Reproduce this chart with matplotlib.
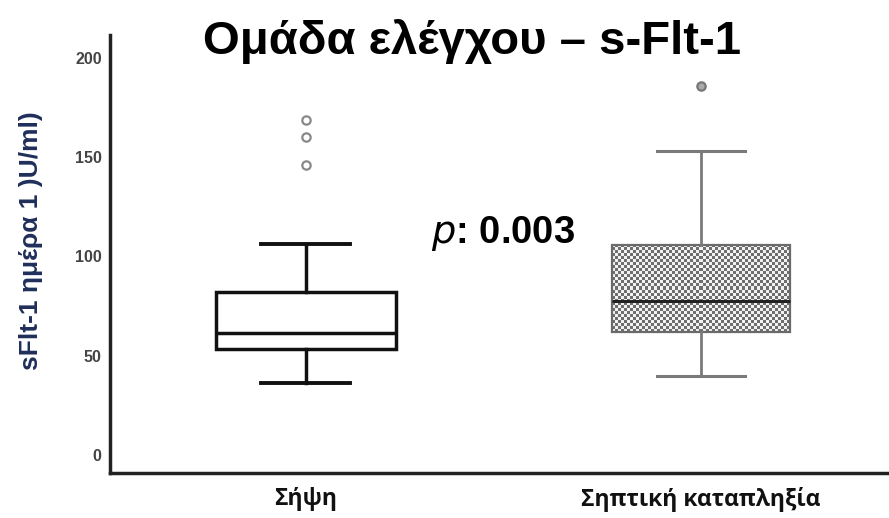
import matplotlib
matplotlib.use("Agg")
import matplotlib.pyplot as plt
import numpy as np

categories = ["Σήψη", "Σηπτική καταπληξία"]
whislo = [36, 40]
q1 = [53.5, 62]
med = [61.5, 77.5]
q3 = [82, 106]
whishi = [106.5, 153]
fliers = [[146, 160, 169], [186]]
yticks = [0, 50, 100, 150, 200]
title = "Ομάδα ελέγχου – s-Flt-1"
ylabel = "sFlt-1 ημέρα 1 )U/ml)"
ptext = "0.003"

fig = plt.figure(figsize=(8.89, 5.18), dpi=100)
ax = fig.add_axes([0.1237, 0.0869, 0.8763, 0.8455])
ax.set_xlim(0.504, 2.476)
ax.set_ylim(-9.1, 211.6)

stats = []
for i, c in enumerate(categories):
    stats.append(dict(label=c, whislo=whislo[i], q1=q1[i], med=med[i], q3=q3[i],
                      whishi=whishi[i], fliers=fliers[i]))

b1 = ax.bxp([stats[0]], positions=[1], widths=0.456, patch_artist=True,
            boxprops=dict(facecolor="white", edgecolor="#111111", linewidth=2.5),
            medianprops=dict(color="#111111", linewidth=2.5),
            whiskerprops=dict(color="#111111", linewidth=2.5),
            capprops=dict(color="#111111", linewidth=2.8),
            capwidths=0.225,
            flierprops=dict(marker="o", markersize=6, markerfacecolor="white",
                            markeredgecolor="#888888", markeredgewidth=1.6))
b2 = ax.bxp([stats[1]], positions=[2], widths=0.45, patch_artist=True,
            boxprops=dict(facecolor="none", edgecolor="#6a6a6a", linewidth=1.6),
            medianprops=dict(color="#222222", linewidth=2.2, zorder=3),
            whiskerprops=dict(color="#7a7a7a", linewidth=2.0),
            capprops=dict(color="#7a7a7a", linewidth=2.2),
            capwidths=0.225,
            flierprops=dict(marker="o", markersize=6, markerfacecolor="#aaaaaa",
                            markeredgecolor="#777777", markeredgewidth=1.6))

# checkerboard fill for the second box, clipped to the box patch
box = b2["boxes"][0]
verts = box.get_path().vertices
x0, x1 = verts[:, 0].min(), verts[:, 0].max()
y0, y1 = verts[:, 1].min(), verts[:, 1].max()
p0 = ax.transData.transform((x0, y0))
p1 = ax.transData.transform((x1, y1))
cell = 3.0
nx = max(1, int(round((p1[0] - p0[0]) / cell)))
ny = max(1, int(round((p1[1] - p0[1]) / cell)))
ii, jj = np.meshgrid(np.arange(nx), np.arange(ny))
pattern = ((ii + jj) % 2).astype(float)
im = ax.imshow(pattern, cmap=matplotlib.colors.ListedColormap(["#f2f2f2", "#6e6e6e"]),
               extent=(x0, x1, y0, y1), aspect="auto", interpolation="nearest",
               zorder=1.5, origin="lower")
im.set_clip_path(box)
ax.set_xlim(0.504, 2.476)
ax.set_ylim(-9.1, 211.6)

ax.set_yticks(yticks)
ax.set_yticklabels([str(t) for t in yticks], fontsize=11.5, fontweight="bold",
                   color="#444444", family=["Liberation Sans", "DejaVu Sans"])
ax.tick_params(axis="y", length=0, pad=6)
ax.tick_params(axis="x", length=0, pad=10)
ax.set_xticks([1, 2])
ax.set_xticklabels(categories, fontsize=16.5, fontweight="bold", color="#111111",
                   family=["Open Sans", "DejaVu Sans"])

for s in ["top", "right"]:
    ax.spines[s].set_visible(False)
for s in ["left", "bottom"]:
    ax.spines[s].set_linewidth(2.5)
    ax.spines[s].set_color("#222222")

ax.set_ylabel(ylabel, fontsize=19, fontweight="bold", color="#1f2f5a",
              family=["Liberation Sans", "DejaVu Sans"])
ax.yaxis.set_label_coords(-0.086, 0.53)

fig.text(0.531, 0.895, title, fontsize=34, fontweight="bold", ha="center",
         family=["Liberation Sans", "DejaVu Sans"], color="black")
ax.text(1.5, 111.8, r"$\mathbf{\mathit{p}}$" + ": " + ptext, fontsize=27.5, fontweight="bold",
        ha="center", va="center", family=["Liberation Sans", "DejaVu Sans"])

fig.savefig("out.png", dpi=100)
